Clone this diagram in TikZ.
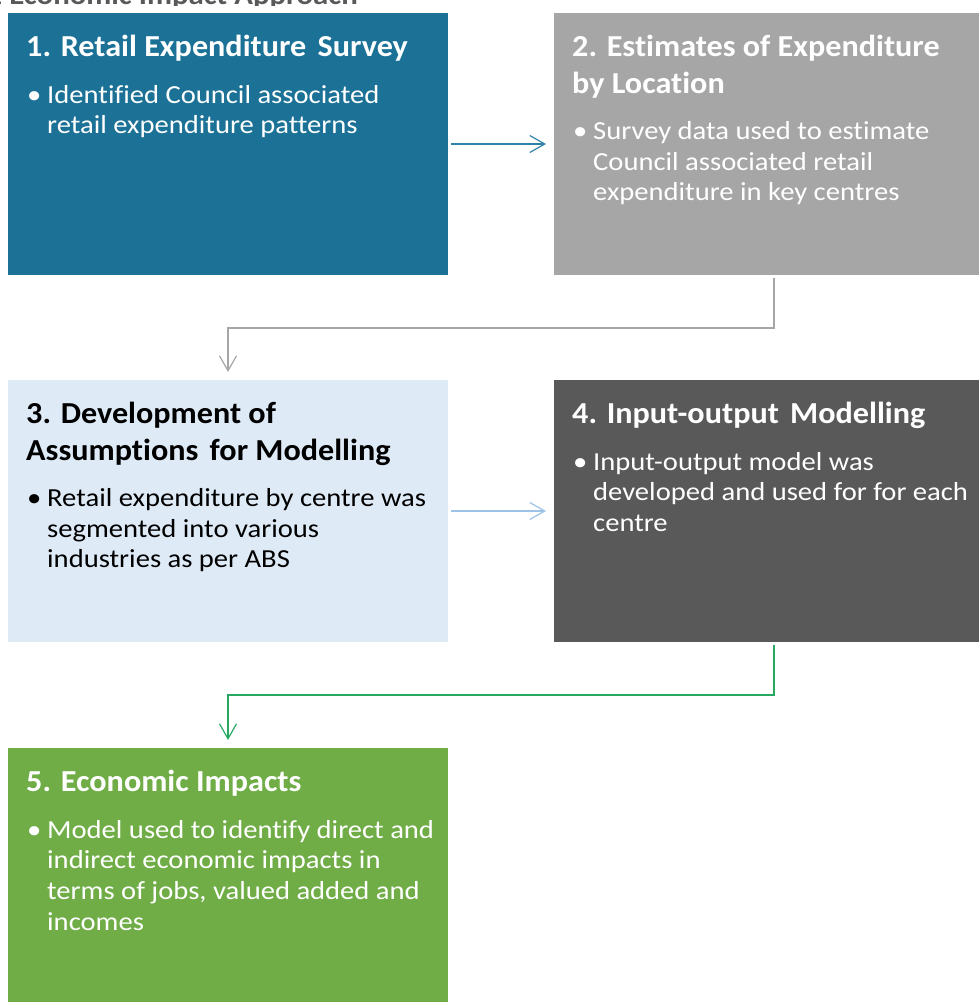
\documentclass[tikz,border=0pt]{standalone}
\usepackage{fontspec}
\setmainfont{Carlito}[Ligatures=CommonOff]
\newfontfamily\ttlfam{Carlito}[Ligatures=CommonOff, FakeStretch=1.055]
\newfontfamily\bulfam{Carlito}[Ligatures=CommonOff, FakeStretch=1.1]
\usepackage{xcolor}
\usepackage{tikz}
\usetikzlibrary{calc,positioning,arrows.meta}
\definecolor{sea}{HTML}{1B7196}
\definecolor{stone}{HTML}{A6A6A6}
\definecolor{mist}{HTML}{DEEAF6}
\definecolor{slate}{HTML}{595959}
\definecolor{leaf}{HTML}{70AD47}
\definecolor{seaarr}{HTML}{2F82A8}
\definecolor{mistarr}{HTML}{9DC3E6}
\definecolor{leafarr}{HTML}{28A860}
\newcommand\ttlfont{\ttlfam\fontsize{30.5}{36}\selectfont\bfseries}
\newcommand\bulfont{\bulfam\fontsize{26}{30.7}\selectfont}
\tikzset{
  panel/.style={rectangle, minimum width=440pt, minimum height=262pt, inner sep=0pt, outer sep=0pt},
  ttl/.style={anchor=base west, inner sep=0pt, font=\ttlfont},
  bul/.style={anchor=base west, inner sep=0pt, font=\bulfont},
  flow/.style={line width=1.2pt, -{Straight Barb[length=15pt,width=17pt]}},
}

\begin{document}
\begin{tikzpicture}[x=1pt,y=-1pt]
  \useasboundingbox (0,0) rectangle (979,1002);

  % clipped caption at the top
  \begin{scope}
    \clip (0,0) rectangle (979,5);
    \node[anchor=base east, inner sep=0pt, text=slate, font=\bulfam\fontsize{28}{32}\selectfont\bfseries] (cap) at (358,4) {.1 Economic Impact Approach};
  \end{scope}

  % panels
  \node[panel, fill=sea, anchor=north west] (p1) at (8,13) {};
  \node[panel, fill=stone, right=106pt of p1] (p2) {};
  \node[panel, fill=mist, below=105pt of p1] (p3) {};
  \node[panel, fill=slate, right=106pt of p3] (p4) {};
  \node[panel, fill=leaf, below=106pt of p3] (p5) {};

  % titles
  \node[ttl, text=white] (p1t1) at ($(p1.north west)+(18,43.5)$) {1. Retail Expenditure\hspace{4pt} Survey};
  \foreach \ln [count=\i] in {2. Estimates of Expenditure, by Location}
    \node[ttl, text=white] (p2t\i) at ($(p2.north west)+(18,{43.5+(\i-1)*36.5})$) {\ln};
  \foreach \ln [count=\i] in {3. Development of, Assumptions\hspace{4pt} for Modelling}
    \node[ttl, text=black] (p3t\i) at ($(p3.north west)+(18,{43.5+(\i-1)*36.5})$) {\ln};
  \node[ttl, text=white] (p4t1) at ($(p4.north west)+(18,43.5)$) {4. Input-output\hspace{4pt} Modelling};
  \node[ttl, text=white] (p5t1) at ($(p5.north west)+(18,43.5)$) {5. Economic Impacts};

  % bullets
  \node[bul, text=white] (p1d) at ($(p1.north west)+(19,90)$) {\textbullet};
  \foreach \ln [count=\i] in {Identified Council associated, retail expenditure patterns}
    \node[bul, text=white] (p1l\i) at ($(p1.north west)+(39,{90+(\i-1)*30.7})$) {\ln};
  \node[bul, text=white] (p2d) at ($(p2.north west)+(19,126.5)$) {\textbullet};
  \foreach \ln [count=\i] in {Survey data used to estimate, Council associated retail, expenditure in key centres}
    \node[bul, text=white] (p2l\i) at ($(p2.north west)+(39,{126.5+(\i-1)*30.7})$) {\ln};
  \node[bul, text=black] (p3d) at ($(p3.north west)+(19,126.5)$) {\textbullet};
  \foreach \ln [count=\i] in {Retail expenditure by centre was, segmented into various, industries as per ABS}
    \node[bul, text=black] (p3l\i) at ($(p3.north west)+(39,{126.5+(\i-1)*30.7})$) {\ln};
  \node[bul, text=white] (p4d) at ($(p4.north west)+(19,90)$) {\textbullet};
  \foreach \ln [count=\i] in {Input-output model was, developed and used for for each, centre}
    \node[bul, text=white] (p4l\i) at ($(p4.north west)+(39,{90+(\i-1)*30.7})$) {\ln};
  \node[bul, text=white] (p5d) at ($(p5.north west)+(19,90)$) {\textbullet};
  \foreach \ln [count=\i] in {Model used to identify direct and, indirect economic impacts in, {terms of jobs, valued added and}, incomes}
    \node[bul, text=white] (p5l\i) at ($(p5.north west)+(39,{90+(\i-1)*30.7})$) {\ln};

  % connectors
  \draw[flow, draw=seaarr, shorten <=3pt, shorten >=8pt] (p1.east) -- (p2.west);
  \draw[flow, draw=stone, shorten <=3pt, shorten >=8pt] (p2.south) -- ++(0,53) -| (p3.north);
  \draw[flow, draw=mistarr, shorten <=3pt, shorten >=8pt] (p3.east) -- (p4.west);
  \draw[flow, draw=leafarr, shorten <=3pt, shorten >=8pt] (p4.south) -- ++(0,53) -| (p5.north);
\end{tikzpicture}
\end{document}
